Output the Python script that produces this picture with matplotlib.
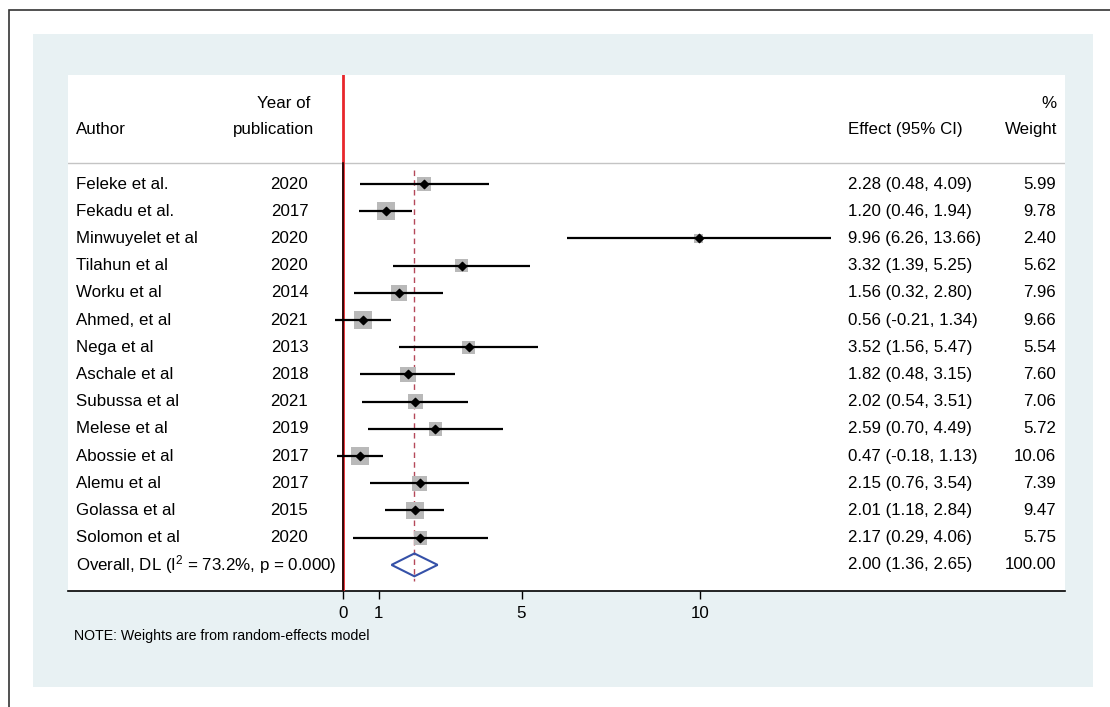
import numpy as np
import matplotlib.pyplot as plt
from matplotlib.patches import Rectangle, Polygon
import matplotlib.transforms as mtransforms

plt.rcParams['font.family'] = ['Liberation Sans', 'DejaVu Sans']
plt.rcParams['mathtext.fontset'] = 'custom'
plt.rcParams['mathtext.rm'] = 'Liberation Sans'
plt.rcParams['mathtext.it'] = 'Liberation Sans'

# study-level estimates
authors = ["Feleke et al.", "Fekadu et al.", "Minwuyelet et al", "Tilahun et al",
           "Worku et al", "Ahmed, et al", "Nega et al", "Aschale et al",
           "Subussa et al", "Melese et al", "Abossie et al", "Alemu et al",
           "Golassa et al", "Solomon et al"]
years = [2020, 2017, 2020, 2020, 2014, 2021, 2013, 2018, 2021, 2019, 2017, 2017, 2015, 2020]
effect = [2.28, 1.20, 9.96, 3.32, 1.56, 0.56, 3.52, 1.82, 2.02, 2.59, 0.47, 2.15, 2.01, 2.17]
ci_low = [0.48, 0.46, 6.26, 1.39, 0.32, -0.21, 1.56, 0.48, 0.54, 0.70, -0.18, 0.76, 1.18, 0.29]
ci_high = [4.09, 1.94, 13.66, 5.25, 2.80, 1.34, 5.47, 3.15, 3.51, 4.49, 1.13, 3.54, 2.84, 4.06]
weight = [5.99, 9.78, 2.40, 5.62, 7.96, 9.66, 5.54, 7.60, 7.06, 5.72, 10.06, 7.39, 9.47, 5.75]

# pooled random-effects estimate
overall_es = 2.00
overall_lo = 1.36
overall_hi = 2.65
overall_i2 = 73.2
overall_p = 0.000
xticks = [0, 1, 5, 10]

W, H = 1110, 707
fig = plt.figure(figsize=(W / 100, H / 100), dpi=100)
fig.patch.set_facecolor('white')

# outer frame and shaded background (kept behind the axes)
frame = Rectangle((9 / W, -0.1), 1.2, 1 - 10 / H + 0.1, transform=fig.transFigure,
                  fill=False, edgecolor='#333333', linewidth=1.2, zorder=-2)
panel = Rectangle((33 / W, 1 - 687 / H), (1093 - 33) / W, (687 - 34) / H,
                  transform=fig.transFigure, facecolor='#e8f1f3', edgecolor='none', zorder=-1)
fig.add_artist(frame)
fig.add_artist(panel)

ax = fig.add_axes([68 / W, 1 - 591 / H, (1065 - 68) / W, (591 - 75) / H])
ax.set_zorder(1)
ax.set_facecolor('white')
ax.set_xlim(-7.70, 20.22)
ax.set_ylim(14.96, -4.01)
for s in ['top', 'left', 'right']:
    ax.spines[s].set_visible(False)
ax.spines['bottom'].set_color('black')
ax.spines['bottom'].set_linewidth(1.2)
ax.set_yticks([])
ax.set_xticks(xticks)
ax.set_xticklabels([str(t) for t in xticks], fontsize=12.2)
ax.tick_params(axis='x', length=6, width=1, pad=5, colors='black')

n = len(authors)
rows = np.arange(n)
overall_row = n
header_y = -0.77

# header rule
ax.axhline(header_y, color='#c4c4c4', linewidth=1)

# null line
ax.plot([0, 0], [-4.01, 14.96], color='#e8262b', linewidth=2.0, zorder=3)
ax.plot([0, 0], [header_y, 14.96], color='black', linewidth=1.1, zorder=4)

# pooled estimate line
ax.plot([overall_es, overall_es], [-0.5, overall_row + 0.6], color='#b5485a',
        linewidth=1.0, linestyle=(0, (4, 3)), zorder=2)

# confidence intervals, weight boxes and point estimates
ax.hlines(rows, ci_low, ci_high, color='black', linewidth=1.6, zorder=5)
box_px = 5.7 * np.sqrt(np.array(weight))
ax.scatter(effect, rows, s=(box_px * 0.72) ** 2, marker='s', color='#b9b9b9',
           edgecolors='none', zorder=4)
ax.scatter(effect, rows, s=18, marker='D', color='black', zorder=6)

# pooled diamond
dh = 0.42
diamond = Polygon([[overall_lo, overall_row], [overall_es, overall_row - dh],
                   [overall_hi, overall_row], [overall_es, overall_row + dh]],
                  closed=True, fill=False, edgecolor='#3551a8', linewidth=1.5, zorder=6)
ax.add_patch(diamond)

# text columns
trans = mtransforms.blended_transform_factory(ax.transAxes, ax.transData)
x_author = 0.008
x_year = 0.241
x_effect = 0.782
x_weight = 0.991
fs = 12.2

ax.text(x_author, -1.99, "Author", transform=trans, fontsize=fs, va='center', ha='left')
ax.text(x_year + 0.002, -2.98, "Year of", transform=trans, fontsize=fs, va='center', ha='right')
ax.text(x_year + 0.006, -1.99, "publication", transform=trans, fontsize=fs, va='center', ha='right')
ax.text(x_effect, -1.99, "Effect (95% CI)", transform=trans, fontsize=fs, va='center', ha='left')
ax.text(x_weight, -2.98, "%", transform=trans, fontsize=fs, va='center', ha='right')
ax.text(x_weight + 0.001, -1.99, "Weight", transform=trans, fontsize=fs, va='center', ha='right')

for i in range(n):
    ax.text(x_author, rows[i], authors[i], transform=trans, fontsize=fs, va='center', ha='left')
    ax.text(x_year, rows[i], str(years[i]), transform=trans, fontsize=fs, va='center', ha='right')
    ax.text(x_effect, rows[i], f"{effect[i]:.2f} ({ci_low[i]:.2f}, {ci_high[i]:.2f})",
            transform=trans, fontsize=fs, va='center', ha='left')
    ax.text(x_weight, rows[i], f"{weight[i]:.2f}", transform=trans, fontsize=fs,
            va='center', ha='right')

ax.text(x_author, overall_row,
        f"Overall, DL (I$^{{2}}$ = {overall_i2:.1f}%, p = {overall_p:.3f})",
        transform=trans, fontsize=fs, va='center', ha='left', zorder=2)
ax.text(x_effect, overall_row, f"{overall_es:.2f} ({overall_lo:.2f}, {overall_hi:.2f})",
        transform=trans, fontsize=fs, va='center', ha='left')
ax.text(x_weight, overall_row, f"{sum(weight):.2f}", transform=trans, fontsize=fs,
        va='center', ha='right')

fig.text(74 / W, 1 - 636 / H, "NOTE: Weights are from random-effects model",
         fontsize=10.2, va='center', ha='left', zorder=2)

fig.savefig('out.png', dpi=100)
